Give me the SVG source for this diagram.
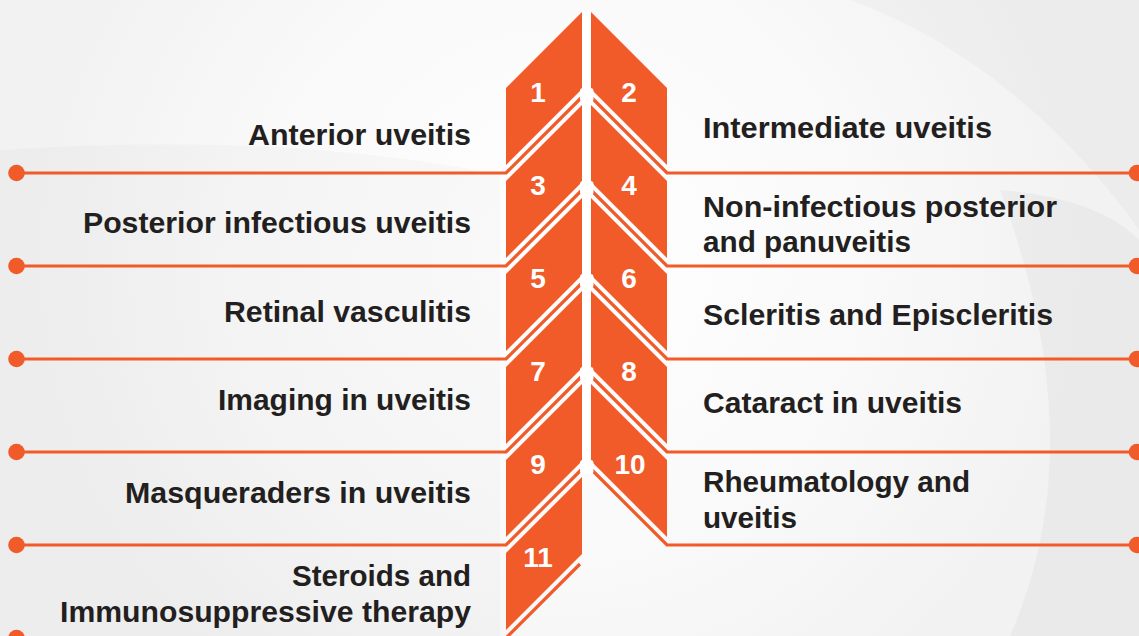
<svg xmlns="http://www.w3.org/2000/svg" width="1139" height="636" viewBox="0 0 1139 636">
  <defs>
    <radialGradient id="bgGlow" cx="560" cy="260" r="520" gradientUnits="userSpaceOnUse">
      <stop offset="0" stop-color="#ffffff"/>
      <stop offset="0.6" stop-color="#f9f9f9"/>
      <stop offset="1" stop-color="#f2f2f2"/>
    </radialGradient>
    <style>
      .p{fill:#F15A29}
      .s{fill:none;stroke:#F15A29;stroke-width:3.2;stroke-linejoin:miter}
      .d{fill:#F15A29}
      .w{fill:#ffffff}
      .n{font-family:"Liberation Sans",Arial,sans-serif;font-weight:bold;font-size:28px;fill:#ffffff;text-anchor:middle}
      .t{font-family:"Liberation Sans",Arial,sans-serif;font-weight:bold;font-size:30px;fill:#231f20}
      .l{text-anchor:end}
    </style>
  </defs>

  <g id="background">
    <rect x="0" y="0" width="1139" height="636" fill="url(#bgGlow)"/>
    <path d="M0,150 C150,140 330,140 500,175 L500,636 L0,636 Z" fill="#000" opacity="0.02"/>
    <path d="M850,0 C960,40 1060,120 1139,230 L1139,0 Z" fill="#000" opacity="0.025"/>
    <path d="M1000,190 C1060,195 1110,210 1139,240 L1139,636 L1010,636 C1060,520 1070,380 1000,190 Z" fill="#000" opacity="0.03"/>
  </g>

  <g id="spine">
    <rect x="582" y="12" width="9.5" height="460" class="w"/>
  </g>

  <g id="connectors">
    <path class="s" d="M16.5,173 H506 L581,98"/>
    <path class="s" d="M16.5,266 H506 L581,191"/>
    <path class="s" d="M16.5,359 H506 L581,284"/>
    <path class="s" d="M16.5,452 H506 L581,377"/>
    <path class="s" d="M16.5,545 H506 L581,470"/>
    <path class="s" d="M16.5,638 H506 L580,564"/>
    <path class="s" d="M1137,173 H667 L592,98"/>
    <path class="s" d="M1137,266 H667 L592,191"/>
    <path class="s" d="M1137,359 H667 L592,284"/>
    <path class="s" d="M1137,452 H667 L592,377"/>
    <path class="s" d="M1137,545 H667 L592,470"/>
    <circle class="d" cx="16.5" cy="173" r="8.3"/>
    <circle class="d" cx="16.5" cy="266" r="8.3"/>
    <circle class="d" cx="16.5" cy="359" r="8.3"/>
    <circle class="d" cx="16.5" cy="452" r="8.3"/>
    <circle class="d" cx="16.5" cy="545" r="8.3"/>
    <circle class="d" cx="16.5" cy="638" r="8.3"/>
    <circle class="d" cx="1137" cy="173" r="8.3"/>
    <circle class="d" cx="1137" cy="266" r="8.3"/>
    <circle class="d" cx="1137" cy="359" r="8.3"/>
    <circle class="d" cx="1137" cy="452" r="8.3"/>
    <circle class="d" cx="1137" cy="545" r="8.3"/>
  </g>

  <g id="node-1">
    <polygon class="p" points="582,12 506,88 506,165 582,89"/>
    <text class="n" x="538" y="102">1</text>
    <text class="t l" x="471" y="145" textLength="223" lengthAdjust="spacingAndGlyphs">Anterior uveitis</text>
  </g>
  <g id="node-2">
    <polygon class="p" points="591,12 667,88 667,165 591,89"/>
    <text class="n" x="629" y="102">2</text>
    <text class="t" x="703" y="138" textLength="289" lengthAdjust="spacingAndGlyphs">Intermediate uveitis</text>
  </g>
  <g id="node-3">
    <polygon class="p" points="582,105 506,181 506,258 582,182"/>
    <text class="n" x="538" y="195">3</text>
    <text class="t l" x="471" y="233" textLength="388" lengthAdjust="spacingAndGlyphs">Posterior infectious uveitis</text>
  </g>
  <g id="node-4">
    <polygon class="p" points="591,105 667,181 667,258 591,182"/>
    <text class="n" x="629" y="195">4</text>
    <text class="t" x="703" y="217" textLength="354" lengthAdjust="spacingAndGlyphs">Non-infectious posterior</text>
    <text class="t" x="703" y="252" textLength="208" lengthAdjust="spacingAndGlyphs">and panuveitis</text>
  </g>
  <g id="node-5">
    <polygon class="p" points="582,198 506,274 506,351 582,275"/>
    <text class="n" x="538" y="288">5</text>
    <text class="t l" x="471" y="322" textLength="247" lengthAdjust="spacingAndGlyphs">Retinal vasculitis</text>
  </g>
  <g id="node-6">
    <polygon class="p" points="591,198 667,274 667,351 591,275"/>
    <text class="n" x="629" y="288">6</text>
    <text class="t" x="703" y="325" textLength="350" lengthAdjust="spacingAndGlyphs">Scleritis and Episcleritis</text>
  </g>
  <g id="node-7">
    <polygon class="p" points="582,291 506,367 506,444 582,368"/>
    <text class="n" x="538" y="381">7</text>
    <text class="t l" x="471" y="410" textLength="253" lengthAdjust="spacingAndGlyphs">Imaging in uveitis</text>
  </g>
  <g id="node-8">
    <polygon class="p" points="591,291 667,367 667,444 591,368"/>
    <text class="n" x="629" y="381">8</text>
    <text class="t" x="703" y="413" textLength="259" lengthAdjust="spacingAndGlyphs">Cataract in uveitis</text>
  </g>
  <g id="node-9">
    <polygon class="p" points="582,384 506,460 506,537 582,461"/>
    <text class="n" x="538" y="474">9</text>
    <text class="t l" x="471" y="503" textLength="346" lengthAdjust="spacingAndGlyphs">Masqueraders in uveitis</text>
  </g>
  <g id="node-10">
    <polygon class="p" points="591,384 667,460 667,537 591,461"/>
    <text class="n" x="630" y="474">10</text>
    <text class="t" x="703" y="492" textLength="267" lengthAdjust="spacingAndGlyphs">Rheumatology and</text>
    <text class="t" x="703" y="528" textLength="94" lengthAdjust="spacingAndGlyphs">uveitis</text>
  </g>
  <g id="node-11">
    <polygon class="p" points="582,477 506,553 506,630 582,554"/>
    <text class="n" x="538" y="567">11</text>
    <text class="t l" x="471" y="586" textLength="179" lengthAdjust="spacingAndGlyphs">Steroids and</text>
    <text class="t l" x="471" y="622" textLength="411" lengthAdjust="spacingAndGlyphs">Immunosuppressive therapy</text>
  </g>

  <g id="joints">
    <rect class="w" x="580" y="88" width="13.5" height="14" rx="3"/>
    <rect class="w" x="580" y="181" width="13.5" height="14" rx="3"/>
    <rect class="w" x="580" y="274" width="13.5" height="14" rx="3"/>
    <rect class="w" x="580" y="367" width="13.5" height="14" rx="3"/>
    <rect class="w" x="580" y="460" width="13.5" height="14" rx="3"/>
  </g>
</svg>
